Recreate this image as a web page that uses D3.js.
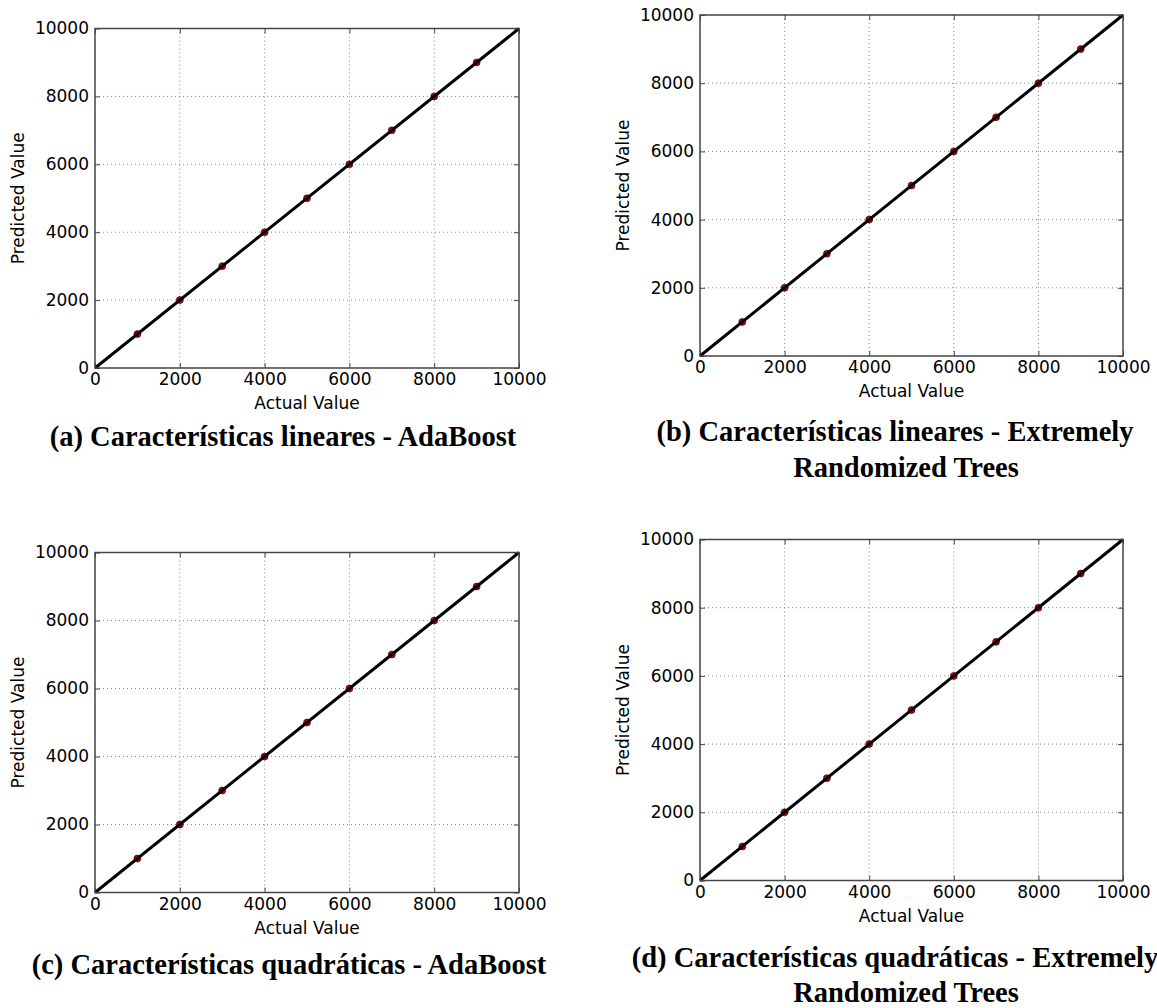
<!DOCTYPE html>
<html>
<head>
<meta charset="utf-8">
<script src="https://cdn.jsdelivr.net/npm/d3@7"></script>
<style>
  body { margin: 0; background: #fff; }
  svg { display: block; }
  .tick text { font-family: "DejaVu Sans", sans-serif; font-size: 17px; fill: #000; }
  .lbl { font-family: "DejaVu Sans", sans-serif; font-size: 17px; fill: #000; }
  .cap { font-family: "Liberation Serif", "Times New Roman", serif; font-weight: bold; font-size: 28.5px; fill: #000; }
</style>
</head>
<body>
<div id="chart"></div>
<script>
// data
var actualA = [1000, 2000, 3000, 4000, 5000, 6000, 7000, 8000, 9000];
var predA   = [1000, 2000, 3000, 4000, 5000, 6000, 7000, 8000, 9000];
var actualB = [1000, 2000, 3000, 4000, 5000, 6000, 7000, 8000, 9000];
var predB   = [1000, 2000, 3000, 4000, 5000, 6000, 7000, 8000, 9000];
var actualC = [1000, 2000, 3000, 4000, 5000, 6000, 7000, 8000, 9000];
var predC   = [1000, 2000, 3000, 4000, 5000, 6000, 7000, 8000, 9000];
var actualD = [1000, 2000, 3000, 4000, 5000, 6000, 7000, 8000, 9000];
var predD   = [1000, 2000, 3000, 4000, 5000, 6000, 7000, 8000, 9000];
var fitLine = [0, 10000];
var ticks = [0, 2000, 4000, 6000, 8000, 10000];
var captions = [
  ["(a) Características lineares - AdaBoost"],
  ["(b) Características lineares - Extremely", "Randomized Trees"],
  ["(c) Características quadráticas - AdaBoost"],
  ["(d) Características quadráticas - Extremely", "Randomized Trees"]
];

var W = 1157, H = 1008;
var svg = d3.select("#chart").append("svg")
  .attr("width", W).attr("height", H);

// plot area box: left, top, right, bottom; caption centres and baselines
var panels = [
  {x: actualA, y: predA, box: [95, 28.5, 519, 368], capX: [283], capY: [446]},
  {x: actualB, y: predB, box: [700, 15, 1123, 356], capX: [895, 906], capY: [441, 477]},
  {x: actualC, y: predC, box: [95, 552.5, 519, 892.5], capX: [289], capY: [974]},
  {x: actualD, y: predD, box: [700, 539.5, 1123, 880.5], capX: [895, 906], capY: [967, 1002]}
];

panels.forEach(function(p, i) {
  var l = p.box[0], t = p.box[1], r = p.box[2], b = p.box[3];
  var w = r - l, h = b - t;
  var g = svg.append("g").attr("transform", "translate(" + l + "," + t + ")");

  var x = d3.scaleLinear().domain([0, 10000]).range([0, w]);
  var y = d3.scaleLinear().domain([0, 10000]).range([h, 0]);

  // grid
  g.append("g").selectAll("line").data(ticks.slice(1, -1)).enter().append("line")
    .attr("x1", d => x(d)).attr("x2", d => x(d)).attr("y1", 0).attr("y2", h)
    .attr("stroke", "#888").attr("stroke-width", 1).attr("stroke-dasharray", "1,3");
  g.append("g").selectAll("line").data(ticks.slice(1, -1)).enter().append("line")
    .attr("y1", d => y(d)).attr("y2", d => y(d)).attr("x1", 0).attr("x2", w)
    .attr("stroke", "#888").attr("stroke-width", 1).attr("stroke-dasharray", "1,3");

  // axes, inward ticks on all four sides
  var xa = g.append("g").attr("transform", "translate(0," + h + ")")
    .call(d3.axisBottom(x).tickValues(ticks).tickSizeInner(-5).tickSizeOuter(0).tickFormat(d3.format("d")));
  var ya = g.append("g")
    .call(d3.axisLeft(y).tickValues(ticks).tickSizeInner(-5).tickSizeOuter(0).tickFormat(d3.format("d")));
  g.append("g")
    .call(d3.axisTop(x).tickValues(ticks).tickSizeInner(-5).tickSizeOuter(0).tickFormat(""));
  g.append("g").attr("transform", "translate(" + w + ",0)")
    .call(d3.axisRight(y).tickValues(ticks).tickSizeInner(-5).tickSizeOuter(0).tickFormat(""));
  g.selectAll(".domain").remove();
  g.selectAll(".tick line").attr("stroke", "#444");
  xa.selectAll(".tick text").attr("dy", "0.71em").attr("y", 5);
  ya.selectAll(".tick text").attr("x", -6);

  // points, then the fitted line over them
  g.append("g").selectAll("circle").data(p.x).enter().append("circle")
    .attr("cx", d => x(d)).attr("cy", (d, k) => y(p.y[k]))
    .attr("r", 3.5).attr("fill", "#b00000").attr("stroke", "#300").attr("stroke-width", 0.6);
  g.append("path")
    .datum(fitLine)
    .attr("d", d3.line().x(d => x(d)).y(d => y(d)))
    .attr("stroke", "#000").attr("stroke-width", 3).attr("fill", "none");

  // frame
  g.append("rect").attr("width", w).attr("height", h)
    .attr("fill", "none").attr("stroke", "#444").attr("stroke-width", 1.5);

  // axis labels
  g.append("text").attr("class", "lbl")
    .attr("x", w / 2).attr("y", h + 41).attr("text-anchor", "middle")
    .text("Actual Value");
  g.append("text").attr("class", "lbl")
    .attr("transform", "translate(-77," + (h / 2) + ") rotate(-90)")
    .attr("dy", "0.35em").attr("text-anchor", "middle")
    .text("Predicted Value");

  // caption
  captions[i].forEach(function(line, j) {
    svg.append("text").attr("class", "cap")
      .attr("x", p.capX[j]).attr("y", p.capY[j]).attr("text-anchor", "middle")
      .text(line);
  });
});
</script>
</body>
</html>
